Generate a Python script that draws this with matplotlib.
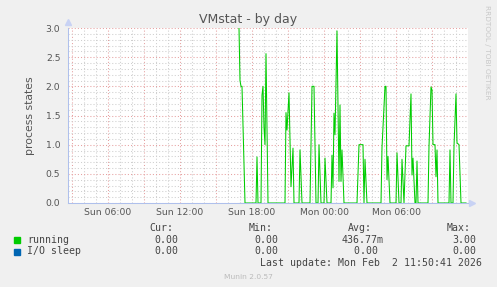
import matplotlib
matplotlib.use('Agg')
import matplotlib.pyplot as plt
from matplotlib.ticker import MultipleLocator, FuncFormatter
import numpy as np

# sample times in minutes after Sun 00:00, and the "running" values
run_minutes = [1015, 1020, 1025, 1030, 1045, 1100, 1105, 1110, 1125, 1130, 1135, 1140,
               1145, 1150, 1160, 1245, 1250, 1255, 1265, 1275, 1285, 1290, 1315, 1320,
               1330, 1370, 1380, 1385, 1390, 1400, 1410, 1415, 1425, 1440, 1445, 1455,
               1475, 1480, 1485, 1490, 1495, 1505, 1515, 1520, 1525, 1530, 1540, 1605,
               1615, 1635, 1640, 1645, 1655, 1725, 1730, 1745, 1750, 1755, 1760, 1770,
               1800, 1805, 1815, 1825, 1830, 1840, 1845, 1850, 1865, 1875, 1880, 1885,
               1895, 1900, 1905, 1910, 1960, 1965, 1975, 1980, 1985, 1995, 2000, 2005,
               2010, 2065, 2070, 2075, 2085, 2090, 2100, 2105, 2115, 2125, 2150]
run_values = [3.0, 2.1, 2.0, 2.0, 0.0, 0.0, 0.79, 0.0, 0.0, 1.85, 2.0, 1.3,
              1.0, 2.56, 0.0, 0.0, 1.55, 1.25, 1.89, 0.28, 0.94, 0.0, 0.0, 0.91,
              0.0, 0.0, 2.0, 2.0, 2.0, 0.0, 0.0, 1.0, 0.0, 0.0, 0.77, 0.0,
              0.0, 0.82, 0.26, 1.54, 1.17, 2.95, 0.37, 1.68, 0.37, 0.91, 0.0, 0.0,
              1.0, 1.0, 0.0, 0.75, 0.0, 0.0, 0.95, 2.0, 2.0, 0.4, 0.8, 0.0,
              0.0, 0.86, 0.0, 0.0, 0.75, 0.0, 0.5, 0.98, 0.98, 1.87, 0.48, 0.77,
              0.0, 0.0, 0.72, 0.0, 0.0, 0.97, 1.99, 1.94, 1.0, 1.0, 0.45, 0.91,
              0.0, 0.0, 0.91, 0.0, 0.0, 0.97, 1.87, 1.03, 1.0, 0.0, 0.0]
io_minutes = [1015, 2150]
io_values = [0.0, 0.0]

series_names = ['running', 'I/O sleep']
series_colors = ['#00CC00', '#0066B3']
cur_vals = ['0.00', '0.00']
min_vals = ['0.00', '0.00']
avg_vals = ['436.77m', '0.00 ']
max_vals = ['3.00', '0.00']

W, H = 497, 287
BG = '#F0F0F0'
TXT = '#444444'


def px(x, y):
    """pixel position (from top-left) -> figure fraction"""
    return x / W, 1 - y / H


def hour_label(h, pos):
    h = int(round(h))
    if h % 6 != 0 or h >= 36:
        return ''
    day = 'Sun' if h < 24 else 'Mon'
    return f'{day} {h % 24:02d}:00'


fig = plt.figure(figsize=(W / 100, H / 100), dpi=100, facecolor=BG)
ax = fig.add_axes([68 / W, 84 / H, 400 / W, 175 / H])
ax.set_facecolor('white')

ax.plot(np.array(run_minutes) / 60, run_values, color=series_colors[0], lw=0.75, zorder=2)
ax.plot(np.array(io_minutes) / 60, io_values, color=series_colors[1], lw=0.75, zorder=2)

ax.set_xlim(36 - 400 / 12, 36)
ax.set_ylim(0, 3.0)
ax.xaxis.set_major_locator(MultipleLocator(3))
ax.xaxis.set_minor_locator(MultipleLocator(1))
ax.xaxis.set_major_formatter(FuncFormatter(hour_label))
ax.yaxis.set_major_locator(MultipleLocator(0.5))
ax.yaxis.set_minor_locator(MultipleLocator(0.1))
ax.yaxis.set_major_formatter(FuncFormatter(lambda v, p: f'{v:.1f}'))

ax.grid(which='minor', color='#CFCFCF', linestyle=(0, (1, 2)), lw=0.75, zorder=0)
ax.grid(which='major', color='#E6A0A0', linestyle=(0, (1, 2)), lw=0.75, zorder=0)
ax.set_axisbelow(True)
ax.tick_params(which='both', length=0, labelsize=6.7, labelcolor='#555555')
ax.tick_params(axis='y', pad=5.5)
ax.tick_params(axis='x', pad=3.5)

for s in ['top', 'right']:
    ax.spines[s].set_visible(False)
for s in ['left', 'bottom']:
    ax.spines[s].set_color('#AFC0EC')
    ax.spines[s].set_linewidth(0.75)
    ax.spines[s].set_zorder(3)
ax.plot([0], [1.034], marker='^', ms=4.5, color='#C8D2F4', transform=ax.transAxes, clip_on=False)
ax.plot([1.01], [0], marker='>', ms=4.5, color='#C8D2F4', transform=ax.transAxes, clip_on=False)

ax.set_ylabel('process states', fontsize=7.8, color='#555555', labelpad=8)

fig.text(*px(248.5, 23), 'VMstat - by day', ha='center', va='baseline', fontsize=9, color='#555555')
fig.text(*px(487, 5), 'RRDTOOL / TOBI OETIKER', ha='center', va='top', rotation=270,
         fontsize=5.3, color='#C8C8C8')

# legend block
mono = dict(family='DejaVu Sans Mono', fontsize=7.1, color=TXT, va='center')
for x, lab in zip([149, 249, 348, 447], ['Cur:', 'Min:', 'Avg:', 'Max:']):
    fig.text(*px(x, 228), lab, ha='left', **mono)
for i, name in enumerate(series_names):
    y = 240 + i * 11.5
    fig.patches.append(plt.Rectangle(px(14, y + 3), 6 / W, 6 / H, color=series_colors[i],
                                     transform=fig.transFigure, figure=fig))
    fig.text(*px(27, y), name, ha='left', **mono)
    fig.text(*px(178.5, y), cur_vals[i], ha='right', **mono)
    fig.text(*px(278.5, y), min_vals[i], ha='right', **mono)
    fig.text(*px(383.5, y), avg_vals[i], ha='right', **mono)
    fig.text(*px(476.5, y), max_vals[i], ha='right', **mono)
fig.text(*px(482.5, 263), 'Last update: Mon Feb  2 11:50:41 2026', ha='right', **mono)
fig.text(*px(248, 277), 'Munin 2.0.57', ha='center', va='center', fontsize=5.4, color='#BBBBBB')

fig.savefig('out.png', dpi=100, facecolor=BG)
plt.close(fig)
